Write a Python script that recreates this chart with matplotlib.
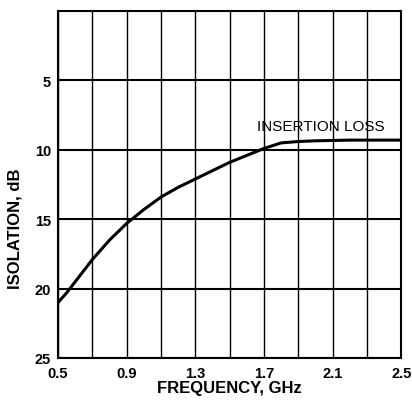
import matplotlib
matplotlib.use("Agg")
import matplotlib.pyplot as plt
import numpy as np

# curva (frecuencia GHz, aislamiento dB)
freq = [0.5, 0.55, 0.6, 0.7, 0.8, 0.9, 1.0, 1.1, 1.2, 1.3, 1.4, 1.5, 1.6, 1.7, 1.75, 1.8, 1.9, 2.0, 2.2, 2.5]
isol = [21.0, 20.3, 19.5, 17.9, 16.5, 15.3, 14.3, 13.4, 12.7, 12.1, 11.5, 10.9, 10.4, 9.9, 9.7, 9.5, 9.4, 9.35, 9.3, 9.3]

xticks = [0.5, 0.9, 1.3, 1.7, 2.1, 2.5]
xminor = [0.7, 1.1, 1.5, 1.9, 2.3]
yticks = [5, 10, 15, 20, 25]

plt.rcParams['font.family'] = ['Liberation Sans', 'DejaVu Sans']
plt.rcParams['font.weight'] = 'bold'
plt.rcParams['axes.labelweight'] = 'bold'

fig = plt.figure(figsize=(4.12, 4.02), dpi=100)
ax = fig.add_axes([0.141, 0.107, 0.833, 0.863])

ax.plot(freq, isol, color='black', lw=2.2)

ax.set_xlim(0.5, 2.5)
ax.set_ylim(25, 0)
ax.set_xticks(xticks)
ax.set_xticklabels([str(t) for t in xticks])
ax.set_xticks(xminor, minor=True)
ax.set_yticks(yticks)
ax.set_yticklabels([str(t) for t in yticks])

ax.grid(True, which='both', axis='x', color='black', lw=1.0)
ax.grid(True, which='major', axis='y', color='black', lw=1.5)
ax.tick_params(which='both', length=0, labelsize=10.5)
ax.tick_params(axis='x', pad=6)
ax.tick_params(axis='y', pad=5)
for s in ax.spines.values():
    s.set_linewidth(1.5)

ax.text(1.66, 8.3, 'INSERTION LOSS', fontsize=11, fontweight='normal', va='center')

ax.set_xlabel('FREQUENCY, GHz', fontsize=12)
ax.set_ylabel('ISOLATION, dB', fontsize=12)
ax.xaxis.set_label_coords(0.5, -0.063)
ax.yaxis.set_label_coords(-0.104, 0.375)

fig.savefig('out.png', dpi=100)
